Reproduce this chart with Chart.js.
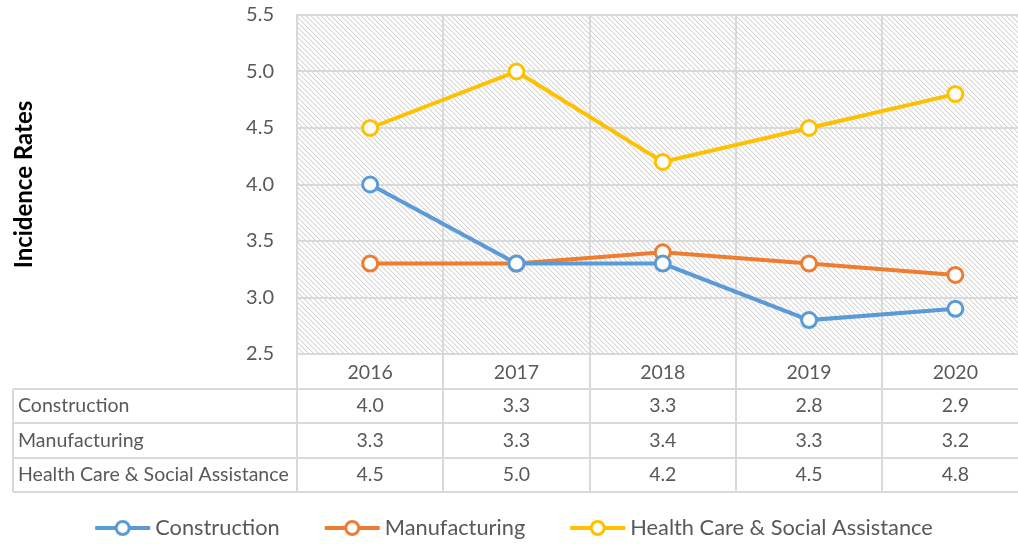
<!DOCTYPE html>
<html>
<head>
<meta charset="utf-8">
<script src="https://cdn.jsdelivr.net/npm/chart.js@4.4.0/dist/chart.umd.min.js"></script>
<style>
  html, body { margin: 0; padding: 0; background: #fff; overflow: hidden; }
  #chart1 { display: block; }
</style>
</head>
<body>
<canvas id="chart1" width="1039" height="544"></canvas>
<script>
const years = ["2016", "2017", "2018", "2019", "2020"];
const construction = [4.0, 3.3, 3.3, 2.8, 2.9];
const manufacturing = [3.3, 3.3, 3.4, 3.3, 3.2];
const healthCare = [4.5, 5.0, 4.2, 4.5, 4.8];
const seriesNames = ["Construction", "Manufacturing", "Health Care & Social Assistance"];
const seriesColors = ["#5B9BD5", "#ED7D31", "#FFC000"];

const textColor = "#595959";
const lineColor = "#d9d9d9";
const fontFamily = "Lato, 'Open Sans', sans-serif";

// hatch pattern for the plot area
function makeHatch() {
  const n = 5;
  const c = document.createElement('canvas');
  c.width = n; c.height = n;
  const g = c.getContext('2d');
  g.fillStyle = "#fff";
  g.fillRect(0, 0, n, n);
  for (let i = 0; i < n; i++) {
    g.fillStyle = "#d5d5d5";
    g.fillRect(i, i, 1, 1);
    g.fillStyle = "#efefef";
    g.fillRect((i + 1) % n, i, 1, 1);
  }
  return c;
}

const hatchBackground = {
  id: 'hatchBackground',
  beforeDraw(chart) {
    const { ctx, chartArea: a } = chart;
    ctx.save();
    ctx.fillStyle = ctx.createPattern(makeHatch(), 'repeat');
    ctx.fillRect(a.left, a.top, a.right - a.left, a.bottom - a.top);
    ctx.restore();
  }
};

const tableRows = [construction, manufacturing, healthCare];

const dataTable = {
  id: 'dataTable',
  afterDraw(chart) {
    const { ctx, chartArea: a } = chart;
    const x = chart.scales.x;
    const half = (x.getPixelForValue(1) - x.getPixelForValue(0)) / 2;
    const headerBottom = a.bottom + 35;
    const rowH = 34.3;
    const tableLeft = 13;
    const tableBottom = headerBottom + rowH * 3;
    ctx.save();
    ctx.strokeStyle = lineColor;
    ctx.lineWidth = 2;
    for (let i = 0; i <= years.length; i++) {
      const px = Math.round(x.getPixelForValue(0) - half + i * half * 2);
      ctx.beginPath(); ctx.moveTo(px, a.bottom); ctx.lineTo(px, tableBottom); ctx.stroke();
    }
    ctx.beginPath(); ctx.moveTo(tableLeft, headerBottom); ctx.lineTo(tableLeft, tableBottom); ctx.stroke();
    for (let r = 0; r <= 3; r++) {
      const py = Math.round(headerBottom + r * rowH);
      ctx.beginPath(); ctx.moveTo(tableLeft, py); ctx.lineTo(a.right, py); ctx.stroke();
    }
    ctx.fillStyle = textColor;
    ctx.font = "19.5px " + fontFamily;
    ctx.textBaseline = 'middle';
    tableRows.forEach((row, r) => {
      const cy = headerBottom + r * rowH + rowH / 2;
      ctx.textAlign = 'left';
      ctx.fillText(seriesNames[r], 18, cy);
      ctx.textAlign = 'center';
      row.forEach((v, i) => ctx.fillText(v.toFixed(1), x.getPixelForValue(i), cy));
    });
    ctx.restore();
  }
};

// legend at the bottom: line + hollow circle, then the name
const bottomLegend = {
  id: 'bottomLegend',
  afterDraw(chart) {
    const ctx = chart.ctx;
    const markW = 55, gap = 5, spacing = 45, cy = 528, center = 514;
    ctx.save();
    ctx.font = "21.8px " + fontFamily;
    const widths = seriesNames.map(n => ctx.measureText(n).width);
    const total = widths.reduce((s, w) => s + markW + gap + w, 0) + spacing * (seriesNames.length - 1);
    let x = center - total / 2;
    seriesNames.forEach((name, i) => {
      ctx.strokeStyle = seriesColors[i];
      ctx.lineWidth = 4;
      ctx.beginPath(); ctx.moveTo(x, cy); ctx.lineTo(x + markW, cy); ctx.stroke();
      ctx.beginPath(); ctx.arc(x + markW / 2, cy, 6.5, 0, Math.PI * 2);
      ctx.fillStyle = "#fff"; ctx.fill();
      ctx.lineWidth = 3; ctx.stroke();
      ctx.fillStyle = textColor;
      ctx.textAlign = 'left';
      ctx.textBaseline = 'middle';
      ctx.fillText(name, x + markW + gap, cy);
      x += markW + gap + widths[i] + spacing;
    });
    ctx.restore();
  }
};

const datasets = [construction, manufacturing, healthCare].map((vals, i) => ({
  label: seriesNames[i],
  data: vals,
  borderColor: seriesColors[i],
  backgroundColor: "#fff",
  borderWidth: 4,
  pointRadius: 7.5,
  pointHoverRadius: 7.5,
  pointBorderWidth: 3,
  pointBackgroundColor: "#fff",
  pointBorderColor: seriesColors[i],
  tension: 0,
}));

new Chart(document.getElementById('chart1'), {
  type: 'line',
  data: { labels: years, datasets: datasets },
  options: {
    responsive: false,
    animation: false,
    layout: { padding: { top: 15, right: 4, left: 0, bottom: 50 } },
    plugins: {
      tooltip: { enabled: false },
      legend: { display: false },
    },
    scales: {
      x: {
        offset: true,
        grid: { offset: true, color: lineColor, lineWidth: 2, drawTicks: false },
        border: { display: false },
        ticks: { color: textColor, font: { size: 19.5, family: fontFamily }, padding: 7 },
        afterFit(s) { s.height = 140; s.paddingLeft = 0; s.paddingRight = 0; },
      },
      y: {
        min: 2.5,
        max: 5.5,
        grid: { color: lineColor, lineWidth: 2, drawTicks: false },
        border: { color: lineColor, width: 2 },
        ticks: {
          stepSize: 0.5,
          color: textColor,
          font: { size: 20, family: fontFamily },
          padding: 23,
          callback: v => v.toFixed(1),
        },
        title: {
          display: true,
          text: "Incidence Rates",
          color: "#000",
          font: { size: 24, weight: 'bold', family: fontFamily },
          padding: { top: 10, bottom: 0 },
        },
        afterFit(s) { s.width = 297; s.paddingTop = 0; s.paddingBottom = 0; },
      },
    },
  },
  plugins: [hatchBackground, dataTable, bottomLegend],
});
</script>
</body>
</html>
